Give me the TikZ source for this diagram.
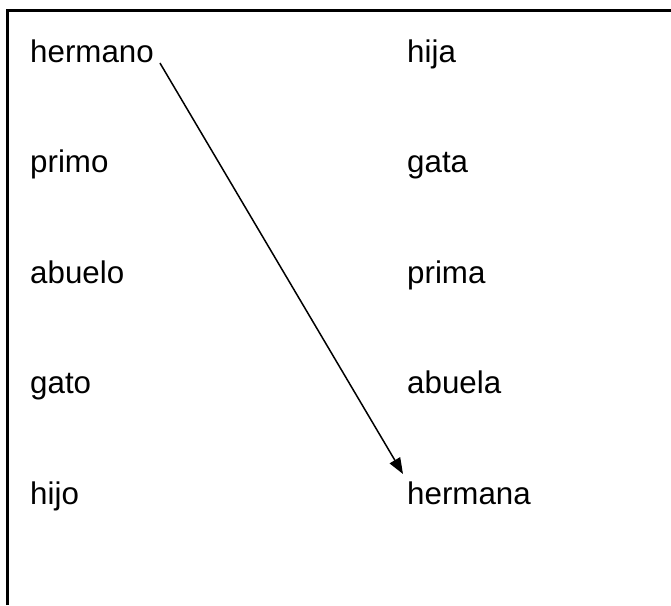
\documentclass[tikz,border=0pt]{standalone}
\usepackage{fontspec}
\setmainfont{Liberation Sans}
\usetikzlibrary{arrows.meta}
\begin{document}
\begin{tikzpicture}[x=1pt,y=-1pt,
  word/.style={anchor=base west,inner sep=0pt,font=\fontsize{31.3}{36}\selectfont}]
\useasboundingbox (0,0) rectangle (671,605);
\draw[line width=3pt] (7.5,605) -- (7.5,10) -- (671,10);
\node[word] (hermano) at (30,62) {hermano};
\node[word] (primo) at (30,172.5) {primo};
\node[word] (abuelo) at (30,283) {abuelo};
\node[word] (gato) at (30,393.5) {gato};
\node[word] (hijo) at (30,504) {hijo};
\node[word] (hija) at (407,62) {hija};
\node[word] (gata) at (407,172.5) {gata};
\node[word] (prima) at (407,283) {prima};
\node[word] (abuela) at (407,393.5) {abuela};
\node[word] (hermana) at (407,504) {hermana};
\draw[line width=1.5pt,-{Triangle[length=16pt,width=12pt]}]
  ([xshift=6pt,yshift=-1pt]hermano.base east) -- ([xshift=-4pt,yshift=30pt]hermana.base west);
\end{tikzpicture}
\end{document}
